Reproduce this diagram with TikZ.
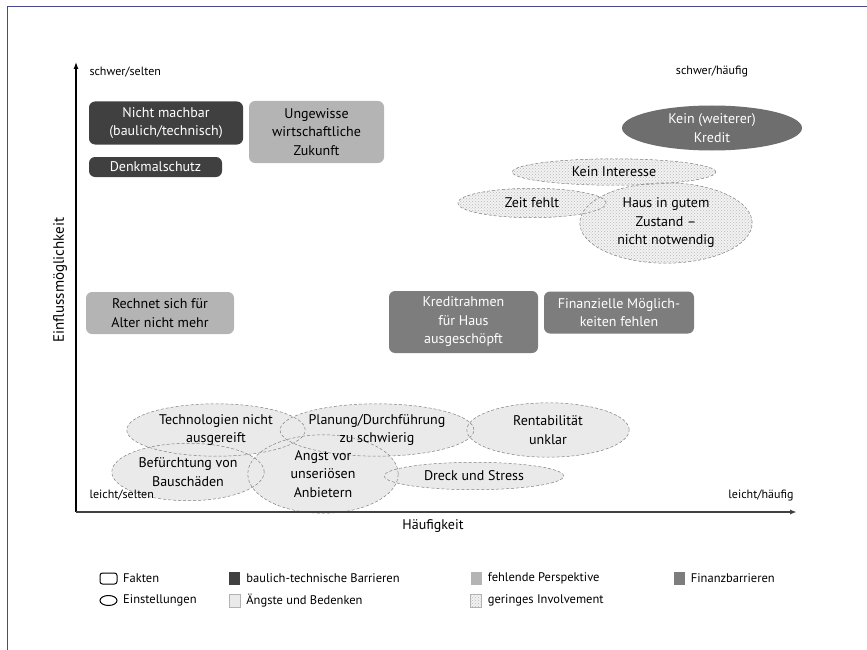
\documentclass[tikz,border=0pt]{standalone}
\usepackage{fontspec}
\setmainfont{PT Sans}
\usetikzlibrary{shapes.geometric,patterns,arrows.meta,calc}
\definecolor{rahmen}{RGB}{72,72,140}
\definecolor{baulich}{RGB}{64,64,64}
\definecolor{perspektive}{RGB}{180,180,180}
\definecolor{finanz}{RGB}{125,125,125}
\definecolor{angstgrau}{RGB}{234,234,234}
\pgfdeclarelayer{flaeche}
\pgfdeclarelayer{kontur}
\pgfsetlayers{flaeche,kontur,main}

\begin{document}
\begin{tikzpicture}[x=1pt, y=-1pt,
  txt/.style={font=\fontsize{14}{18.5}\selectfont, align=center},
  klein/.style={font=\fontsize{12}{14}\selectfont},
  fakt/.style={txt, rounded corners=6pt, inner sep=0pt},
  einst/.style={txt, ellipse, inner sep=0pt},
  kontur/.style={draw=gray, densely dashed, line width=0.5pt},
  punkte/.style={preaction={fill=gray!10}, pattern=crosshatch dots, pattern color=gray!55},
  legkasten/.style={minimum width=11pt, minimum height=13pt, inner sep=0pt},
  legtext/.style={font=\fontsize{12.5}{14}\selectfont, anchor=west, inner sep=0pt}]
  \useasboundingbox (0,0) rectangle (867,650);
  %% frame
  \draw[rahmen, line width=1pt] (867,7) -- (7,7) -- (7,650);
  %% axes
  \coordinate (ursprung) at (76,512);
  \coordinate (ytip) at (76,62);
  \coordinate (xtip) at (797,512);
  \draw[line width=1.2pt, -{Latex[length=7pt,width=5pt]}] (ursprung) -- (ytip);
  \draw[line width=1.6pt, black!75, -{Latex[length=7pt,width=5pt]}] (ursprung) -- (xtip);
  \node[klein, anchor=west] (sselten) at (86,72) {schwer/selten};
  \node[klein] (shaeufig) at (712,72) {schwer/häufig};
  \node[klein, anchor=west] (lselten) at (86,495) {leicht/selten};
  \node[klein, anchor=east] (lhaeufig) at (797,495) {leicht/häufig};
  \node[font=\fontsize{14}{16}\selectfont] (haeufigkeit) at (433,526) {Häufigkeit};
  \node[font=\fontsize{15}{17}\selectfont, rotate=90] (einfluss) at (60,280) {Einflussmöglichkeit};

  %% Fakten (rounded boxes)
  \node[fakt, fill=baulich, text=white, minimum width=154pt, minimum height=43pt] (machbar) at (166,123) {Nicht machbar\\(baulich/technisch)};
  \node[fakt, fill=baulich, text=white, minimum width=133pt, minimum height=20pt] (denkmal) at (155.5,167) {Denkmalschutz};
  \node[fakt, fill=perspektive, minimum width=135pt, minimum height=62pt] (zukunft) at (316.5,132) {Ungewisse\\wirtschaftliche\\Zukunft};
  \node[fakt, fill=perspektive, minimum width=148pt, minimum height=42pt] (alter) at (160,313) {Rechnet sich für\\Alter nicht mehr};
  \node[fakt, fill=finanz, text=white, minimum width=149pt, minimum height=62pt] (rahmen) at (463.5,322) {Kreditrahmen\\für Haus\\ausgeschöpft};
  \node[fakt, fill=finanz, text=white, minimum width=150pt, minimum height=42pt] (finanzen) at (619,312.5) {Finanzielle Möglich-\\keiten fehlen};

  %% Einstellungen (ellipses) -- text here, fill and outline on the layers below
  \node[einst, fill=finanz!88!black, text=white, minimum width=180pt, minimum height=45pt] (kredit) at (712,128) {Kein (weiterer)\\Kredit};
  \node[einst, minimum width=203pt, minimum height=26pt] (interesse) at (614,172) {Kein Interesse};
  \node[einst, minimum width=148pt, minimum height=29pt] (zeit) at (532,203) {Zeit fehlt};
  \node[einst, minimum width=172pt, minimum height=80pt] (zustand) at (666,223) {Haus in gutem\\Zustand –\\nicht notwendig};

  \node[einst, minimum width=178pt, minimum height=52pt] (technik) at (216,430) {Technologien nicht\\ausgereift};
  \node[einst, minimum width=182pt, minimum height=52pt] (planung) at (377,430) {Planung/Durchführung\\zu schwierig};
  \node[einst, minimum width=162pt, minimum height=54pt] (rendite) at (548,430) {Rentabilität\\unklar};
  \node[einst, minimum width=179pt, minimum height=27pt] (dreck) at (474,476) {Dreck und Stress};
  \node[einst, minimum width=152pt, minimum height=57pt] (schaeden) at (188,472) {Befürchtung von\\Bauschäden};
  \node[einst, minimum width=150pt, minimum height=78pt] (anbieter) at (323,474) {Angst vor\\unseriösen\\Anbietern};

  \begin{pgfonlayer}{flaeche}
    \foreach \e in {technik,planung,rendite,dreck,schaeden,anbieter}
      \fill[angstgrau] let \p1=(\e.east), \p2=(\e.north), \p3=(\e.center) in
        (\p3) ellipse ({\x1-\x3} and {\y2-\y3});
    \foreach \e in {interesse,zeit,zustand}
      \path[punkte] let \p1=(\e.east), \p2=(\e.north), \p3=(\e.center) in
        (\p3) ellipse ({\x1-\x3} and {\y2-\y3});
  \end{pgfonlayer}
  \begin{pgfonlayer}{kontur}
    \foreach \e in {technik,planung,rendite,dreck,schaeden,anbieter,interesse,zeit,zustand}
      \draw[kontur] let \p1=(\e.east), \p2=(\e.north), \p3=(\e.center) in
        (\p3) ellipse ({\x1-\x3} and {\y2-\y3});
  \end{pgfonlayer}

  %% legend
  \draw[line width=1pt, rounded corners=2.5pt] (100,573) rectangle (117,584);
  \node[legtext] (lfakten) at (123,578.5) {Fakten};
  \draw[line width=1pt] (108.5,600.5) ellipse (8.5pt and 5pt);
  \node[legtext] (leinst) at (123,600.5) {Einstellungen};
  \node[legkasten, fill=baulich] (kbaulich) at (234.5,578.5) {};
  \node[legtext, right=6pt] (lbaulich) at (kbaulich.east) {baulich-technische Barrieren};
  \node[legkasten, fill=angstgrau, draw=gray!60, line width=0.4pt] (kangst) at (234.5,600.5) {};
  \node[legtext, right=6pt] (langst) at (kangst.east) {Ängste und Bedenken};
  \node[legkasten, fill=perspektive] (kpersp) at (476,578.5) {};
  \node[legtext, right=6pt] (lpersp) at (kpersp.east) {fehlende Perspektive};
  \node[legkasten, punkte, draw=gray!60, line width=0.4pt] (kinvolv) at (476,600.5) {};
  \node[legtext, right=6pt] (linvolv) at (kinvolv.east) {geringes Involvement};
  \node[legkasten, fill=finanz] (kfinanz) at (679,578.5) {};
  \node[legtext, right=6pt] (lfinanz) at (kfinanz.east) {Finanzbarrieren};
\end{tikzpicture}
\end{document}
